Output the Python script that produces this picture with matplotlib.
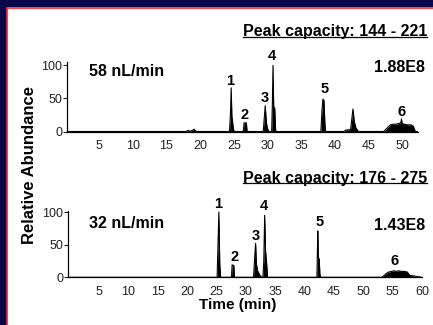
import matplotlib
matplotlib.use('Agg')
import matplotlib.pyplot as plt
from matplotlib.patches import Rectangle
from matplotlib.lines import Line2D

plt.rcParams['font.family'] = ['Liberation Sans', 'DejaVu Sans']

# 58 nL/min trace (time in min, relative abundance)
top_time = [0.25, 17.9, 18.2, 18.5, 18.9, 19.1, 19.3, 19.5,
            24.35, 24.5, 24.6, 24.7, 24.8, 24.9, 25.05,
            26.4, 26.5, 26.85, 26.95,
            29.35, 29.5, 29.65, 29.8, 29.95, 30.2,
            30.6, 30.7, 30.8, 30.9, 31.05, 31.2,
            37.9, 38.05, 38.2, 38.35, 38.5, 38.6,
            41.3, 41.6, 42.3, 42.5, 42.65, 42.85, 43.1, 43.5,
            47.2, 47.7, 48.2, 48.6, 49.0, 49.4, 49.75, 49.85, 49.95,
            50.3, 50.8, 51.3, 51.6, 51.9, 52.3]
top_abund = [0, 0, 1.5, 0.5, 2, 3.5, 1, 0,
             0, 30, 66, 22, 15, 5, 0,
             0, 13, 13, 0,
             0, 20, 39, 15, 5, 0,
             0, 40, 100, 38, 35, 0,
             0, 30, 49, 47, 10, 0,
             0, 2, 3, 20, 34, 15, 5, 0,
             0, 5, 10, 11, 11, 12, 13, 19, 12,
             11, 10, 10, 8, 0, 0]

# 32 nL/min trace
bot_time = [-0.3, 25.1, 25.25, 25.4, 25.55, 25.7,
            27.55, 27.65, 27.95, 28.05,
            31.3, 31.5, 31.65, 31.8, 32.0, 32.4, 32.7,
            32.9, 33.05, 33.2, 33.35, 33.5, 33.7,
            42.1, 42.25, 42.35, 42.5, 42.6, 42.75,
            53.2, 53.8, 54.3, 54.8, 55.2, 55.6, 56.0, 56.5, 57.0, 57.5, 57.9, 60]
bot_abund = [0, 0, 50, 100, 20, 0,
             0, 19, 18, 0,
             0, 30, 52, 20, 10, 3, 0,
             0, 25, 95, 40, 25, 0,
             0, 71, 30, 28, 5, 0,
             0, 5, 8, 9, 10, 9, 10, 9, 9, 8, 3, 0]

top_labels = ['1', '2', '3', '4', '5', '6']
top_label_t = [24.4, 26.6, 29.6, 30.6, 38.4, 49.8]
top_label_y = [77, 25, 50, 114, 64, 30]
bot_labels = ['1', '2', '3', '4', '5', '6']
bot_label_t = [25.3, 28.0, 31.6, 33.1, 42.5, 55.4]
bot_label_y = [113, 31, 63, 109, 84, 25]

top_ticks = [5, 10, 15, 20, 25, 30, 35, 40, 45, 50]
bot_ticks = [5, 10, 15, 20, 25, 30, 35, 40, 45, 50, 55, 60]

W, H = 433, 325
fig = plt.figure(figsize=(W / 100, H / 100), dpi=100)
fig.patch.set_facecolor('#07074a')

def fx(x):
    return x / W

def fy(y):
    return 1 - y / H

# white panel with red edge
fig.patches.append(Rectangle((fx(7), 0), 1, fy(7), transform=fig.transFigure,
                             facecolor='white', edgecolor='none', zorder=-5))
fig.add_artist(Line2D([fx(7.5), fx(7.5)], [0, fy(7.5)], color='#ff2020', lw=1.2))
fig.add_artist(Line2D([fx(7.5), 1], [fy(7.5), fy(7.5)], color='#ff2020', lw=1.2))

def style(ax, xlim, ylim, ticks):
    ax.set_facecolor('none')
    ax.set_xlim(*xlim)
    ax.set_ylim(*ylim)
    ax.spines['top'].set_visible(False)
    ax.spines['right'].set_visible(False)
    ax.spines['left'].set_linewidth(0.9)
    ax.spines['bottom'].set_linewidth(0.9)
    ax.set_xticks(ticks)
    ax.set_yticks([0, 50, 100])
    ax.tick_params(axis='x', length=0, pad=6, labelsize=9, colors='#222222')
    ax.tick_params(axis='y', length=3, width=0.8, pad=0.5, labelsize=9,
                   colors='#222222')

ax1 = fig.add_axes([fx(67), fy(131.5), fx(418) - fx(67), fy(62) - fy(131.5)])
ax1.plot(top_time, top_abund, color='black', lw=0.8)
ax1.fill_between(top_time, top_abund, 0, color='black', lw=0)
style(ax1, (0.25, 52.3), (0, 105), top_ticks)
for s, t, y in zip(top_labels, top_label_t, top_label_y):
    ax1.text(t, y, s, ha='center', va='center', fontsize=10.5, fontweight='bold',
             clip_on=False)

ax2 = fig.add_axes([fx(68), fy(277.3), fx(422) - fx(68), fy(210.7) - fy(277.3)])
ax2.plot(bot_time, bot_abund, color='black', lw=0.8)
ax2.fill_between(bot_time, bot_abund, 0, color='black', lw=0)
style(ax2, (-0.3, 60), (0, 102), bot_ticks)
for s, t, y in zip(bot_labels, bot_label_t, bot_label_y):
    ax2.text(t, y, s, ha='center', va='center', fontsize=10.5, fontweight='bold',
             clip_on=False)

fig.text(fx(89), fy(71), '58 nL/min', ha='left', va='center', fontsize=11.5,
         fontweight='bold')
fig.text(fx(425), fy(67), '1.88E8', ha='right', va='center', fontsize=11.5,
         fontweight='bold')
fig.text(fx(89), fy(223), '32 nL/min', ha='left', va='center', fontsize=11.5,
         fontweight='bold')
fig.text(fx(425), fy(225), '1.43E8', ha='right', va='center', fontsize=11.5,
         fontweight='bold')

cap1 = fig.text(fx(427), fy(31.5), 'Peak capacity: 144 - 221', ha='right',
                va='center', fontsize=11.5, fontweight='bold')
cap2 = fig.text(fx(427), fy(178), 'Peak capacity: 176 - 275', ha='right',
                va='center', fontsize=11.5, fontweight='bold')

fig.text(fx(30), fy(165), 'Relative Abundance', rotation=90, ha='center',
         va='center', fontsize=12, fontweight='bold')
fig.text(fx(238), fy(305), 'Time (min)', ha='center', va='center', fontsize=11,
         fontweight='bold')

# underline the peak capacity captions
fig.canvas.draw()
for cap, yline in [(cap1, 37.3), (cap2, 182.7)]:
    bb = cap.get_window_extent()
    fig.add_artist(Line2D([bb.x0 / W, bb.x1 / W], [fy(yline), fy(yline)],
                          color='black', lw=0.9))

fig.savefig('out.png', dpi=100, facecolor=fig.get_facecolor())
